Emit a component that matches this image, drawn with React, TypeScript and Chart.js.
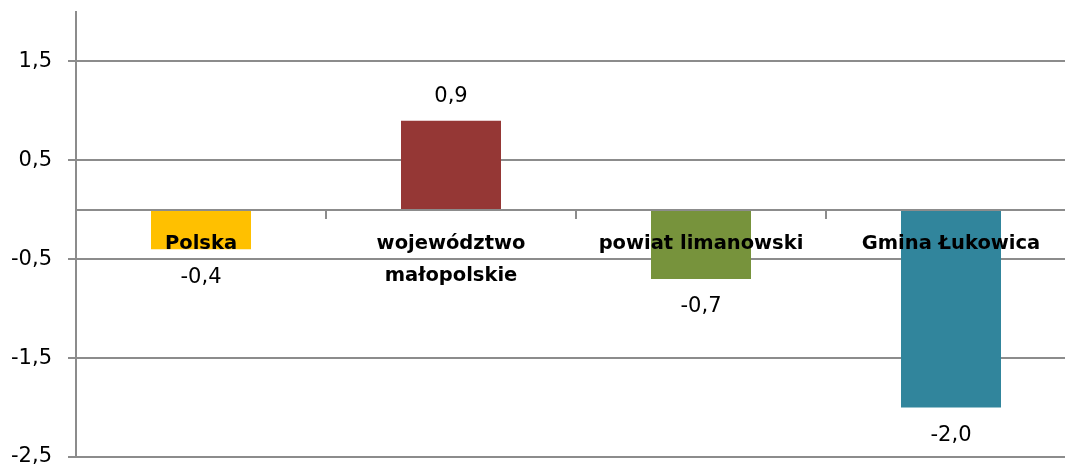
import { useEffect, useRef } from "react";
import { Chart, registerables } from "chart.js";

Chart.register(...registerables);

const categories: (string | string[])[] = [
  "Polska",
  ["województwo", "małopolskie"],
  "powiat limanowski",
  "Gmina Łukowica",
];
const values = [-0.4, 0.9, -0.7, -2.0];
const barColors = ["#FFC000", "#953735", "#77933C", "#31859C"];
const yTicks = [-2.5, -1.5, -0.5, 0.5, 1.5];
const yMin = -2.5;
const yMax = 2.0;

const FONT = '"DejaVu Sans", "Liberation Sans", sans-serif';
const GRID = "#8c8c8c";

const fmt = (v: number) => v.toFixed(1).replace(".", ",");

const valueLabels = {
  id: "valueLabels",
  afterDraw(chart: any) {
    const ctx = chart.ctx;
    const meta = chart.getDatasetMeta(0);
    ctx.save();
    ctx.font = `21px ${FONT}`;
    ctx.fillStyle = "#000";
    ctx.textAlign = "center";
    ctx.textBaseline = "middle";
    meta.data.forEach((bar: any, i: number) => {
      const v = values[i];
      const y = v >= 0 ? bar.y - 24 : bar.y + 28;
      ctx.fillText(fmt(v), bar.x, y);
    });
    ctx.restore();
  },
};

export default function App() {
  const ref = useRef<HTMLCanvasElement>(null);
  useEffect(() => {
    document.body.style.overflow = "hidden";
    const chart = new Chart(ref.current!, {
      type: "bar",
      data: {
        labels: categories,
        datasets: [
          {
            data: values,
            backgroundColor: barColors,
            barPercentage: 1,
            categoryPercentage: 0.4,
            borderWidth: 0,
          },
        ],
      },
      options: {
        animation: false,
        responsive: false,
        devicePixelRatio: 1,
        layout: { padding: { top: 12, bottom: 13, left: 0, right: 14 } },
        plugins: { legend: { display: false }, tooltip: { enabled: false } },
        scales: {
          x: {
            type: "category",
            position: { y: 0 } as any,
            offset: true,
            grid: {
              display: true,
              drawOnChartArea: false,
              offset: true,
              tickLength: 8,
              color: GRID,
              lineWidth: 2,
            },
            border: { display: true, color: GRID, width: 2, z: 1 },
            ticks: {
              z: 1,
              font: { family: FONT, size: 19.5, weight: "bold", lineHeight: 1.65 },
              color: "#000",
              padding: 10,
              maxRotation: 0,
              autoSkip: false,
            },
          },
          y: {
            min: yMin,
            max: yMax,
            afterBuildTicks: (s: any) => {
              s.ticks = yTicks.map((v) => ({ value: v }));
            },
            afterFit: (s: any) => {
              s.width = 76;
              s.paddingTop = 0;
              s.paddingBottom = 0;
            },
            grid: { color: GRID, lineWidth: 2, tickLength: 8, tickColor: GRID },
            border: { display: true, color: GRID, width: 2 },
            ticks: {
              font: { family: FONT, size: 21 },
              color: "#000",
              padding: 16,
              callback: (v: any) => fmt(Number(v)),
            },
          },
        },
      },
      plugins: [valueLabels],
    });
    return () => chart.destroy();
  }, []);
  return (
    <div style={{ position: "fixed", left: 0, top: 0, width: 1090, height: 470 }}>
      <canvas ref={ref} width={1090} height={470} style={{ display: "block" }} />
    </div>
  );
}
